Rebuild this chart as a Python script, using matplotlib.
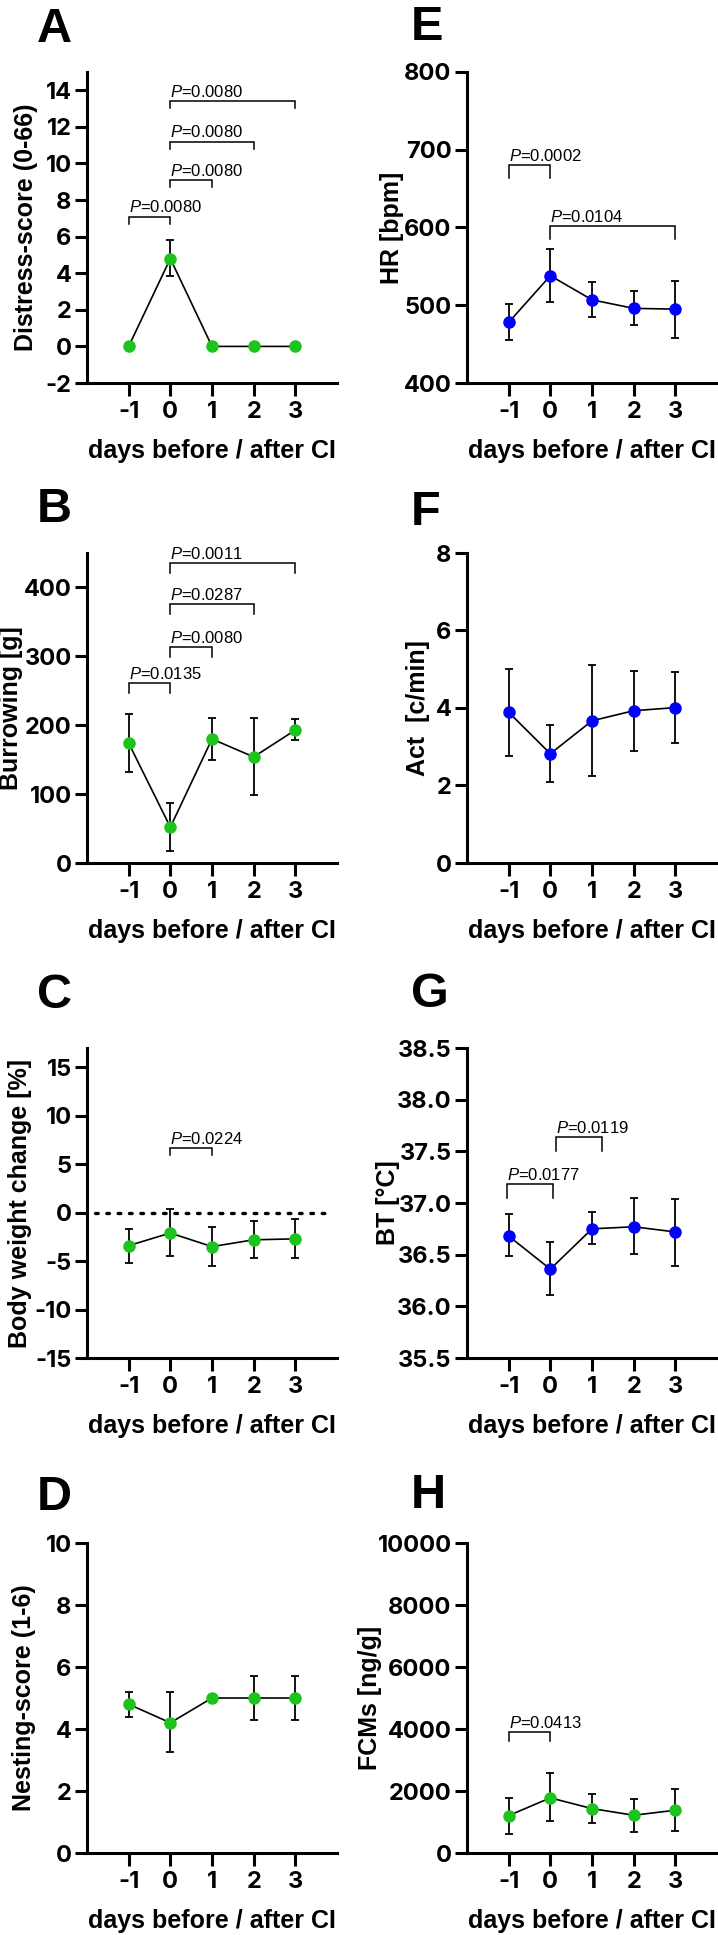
import numpy as np
import matplotlib
matplotlib.use('Agg')
import matplotlib.pyplot as plt
from matplotlib.ticker import FormatStrFormatter

plt.rcParams['font.family'] = ['Liberation Sans', 'DejaVu Sans']
plt.rcParams['axes.unicode_minus'] = False
plt.rcParams['mathtext.fontset'] = 'custom'
plt.rcParams['mathtext.it'] = 'Liberation Sans:italic'
plt.rcParams['mathtext.rm'] = 'Liberation Sans'

GREEN = '#1ec31e'
BLUE = '#0000ff'

days = [-1, 0, 1, 2, 3]

# mean, lower and upper end of the error bars
distress_mean = [0, 4.8, 0, 0, 0]
distress_lo = [0, 3.85, 0, 0, 0]
distress_hi = [0, 5.8, 0, 0, 0]

burrow_mean = [174, 52, 180, 154, 193]
burrow_lo = [132, 18, 150, 98, 178]
burrow_hi = [216, 87, 211, 210, 209]

weight_mean = [-3.4, -2.1, -3.5, -2.8, -2.7]
weight_lo = [-5.2, -4.5, -5.5, -4.7, -4.7]
weight_hi = [-1.7, 0.4, -1.45, -0.85, -0.7]

nest_mean = [4.8, 4.2, 5.0, 5.0, 5.0]
nest_lo = [4.4, 3.25, 5.0, 4.3, 4.3]
nest_hi = [5.2, 5.2, 5.0, 5.7, 5.7]

hr_mean = [478, 538, 507, 496, 495]
hr_lo = [455, 504, 485, 474, 458]
hr_hi = [501, 572, 530, 518, 531]

act_mean = [3.89, 2.82, 3.67, 3.93, 4.01]
act_lo = [2.77, 2.08, 2.25, 2.9, 3.09]
act_hi = [5.0, 3.55, 5.1, 4.96, 4.92]

bt_mean = [36.68, 36.36, 36.75, 36.77, 36.72]
bt_lo = [36.49, 36.11, 36.60, 36.51, 36.39]
bt_hi = [36.89, 36.62, 36.91, 37.05, 37.04]

fcm_mean = [1207, 1778, 1433, 1218, 1380]
fcm_lo = [625, 1025, 970, 679, 700]
fcm_hi = [1778, 2565, 1908, 1757, 2070]

# significance brackets: (x from, x to, y, p value)
distress_brackets = [(-1, 0, 7.1, '0.0080'), (0, 1, 9.1, '0.0080'),
                     (0, 2, 11.2, '0.0080'), (0, 3, 13.4, '0.0080')]
burrow_brackets = [(-1, 0, 261, '0.0135'), (0, 1, 313, '0.0080'),
                   (0, 2, 376, '0.0287'), (0, 3, 435, '0.0011')]
weight_brackets = [(0, 1, 6.7, '0.0224')]
nest_brackets = []
hr_brackets = [(-1, 0, 680, '0.0002'), (0, 3, 602, '0.0104')]
act_brackets = []
bt_brackets = [(-1.05, 0.06, 37.18, '0.0177'), (0.14, 1.24, 37.64, '0.0119')]
fcm_brackets = [(-1, 0, 3910, '0.0413')]

W, H = 718, 1935
rows = [(72, 383), (553, 863), (1048, 1358), (1543, 1853)]
cols = [87, 467]
AX_W = 250

panels = [
    # letter, col, row, ylabel, mean, lo, hi, brackets, ylim, yticks, color, tip px, ylabel x px
    ('A', 0, 0, 'Distress-score (0-66)', distress_mean, distress_lo, distress_hi,
     distress_brackets, (-2, 15), np.arange(-2, 15, 2), GREEN, 7, 26),
    ('B', 0, 1, 'Burrowing [g]', burrow_mean, burrow_lo, burrow_hi,
     burrow_brackets, (0, 450), np.arange(0, 401, 100), GREEN, 10, 11),
    ('C', 0, 2, 'Body weight change [%]', weight_mean, weight_lo, weight_hi,
     weight_brackets, (-15, 17), np.arange(-15, 16, 5), GREEN, 7, 20),
    ('D', 0, 3, 'Nesting-score (1-6)', nest_mean, nest_lo, nest_hi,
     nest_brackets, (0, 10), np.arange(0, 11, 2), GREEN, 8, 24),
    ('E', 1, 0, 'HR [bpm]', hr_mean, hr_lo, hr_hi,
     hr_brackets, (400, 800), np.arange(400, 801, 100), BLUE, 13, 392),
    ('F', 1, 1, 'Act  [c/min]', act_mean, act_lo, act_hi,
     act_brackets, (0, 8), np.arange(0, 9, 2), BLUE, 10, 418),
    ('G', 1, 2, 'BT [°C]', bt_mean, bt_lo, bt_hi,
     bt_brackets, (35.5, 38.5), np.arange(35.5, 38.51, 0.5), BLUE, 14, 388),
    ('H', 1, 3, 'FCMs [ng/g]', fcm_mean, fcm_lo, fcm_hi,
     fcm_brackets, (0, 10000), np.arange(0, 10001, 2000), GREEN, 9, 370),
]
letter_base = {'A': 42, 'B': 522, 'C': 1008, 'D': 1510,
               'E': 40, 'F': 525, 'G': 1007, 'H': 1508}

fig = plt.figure(figsize=(W / 100, H / 100), dpi=100)

for (letter, c, r, ylabel, mean, lo, hi, brackets, ylim, yticks,
     color, tip_px, ylab_x) in panels:
    top, bottom = rows[r]
    left = cols[c]
    ax_h = bottom - top
    ax = fig.add_axes([left / W, 1 - bottom / H, AX_W / W, ax_h / H])

    mean = np.array(mean)
    yerr = [mean - np.array(lo), np.array(hi) - mean]
    ax.errorbar(days, mean, yerr=yerr, fmt='none', ecolor='black',
                elinewidth=1.3, capsize=2.8, capthick=1.3, zorder=2)
    ax.plot(days, mean, '-', color='black', lw=1.2, zorder=2)
    ax.plot(days, mean, 'o', color=color, ms=8, mec=color, zorder=3, clip_on=False)

    if letter == 'C':
        ax.axhline(0, xmin=0.03, xmax=0.97, color='black', lw=2.4,
                   linestyle=(0, (0.8, 2.6)), dash_capstyle='round', zorder=1)

    ax.set_xlim(-2, 4)
    ax.set_ylim(*ylim)
    ax.set_xticks(days)
    ax.set_yticks(yticks)
    if letter == 'G':
        ax.yaxis.set_major_formatter(FormatStrFormatter('%.1f'))

    tip = tip_px / ax_h * (ylim[1] - ylim[0])
    for x1, x2, y, p in brackets:
        ax.plot([x1, x1, x2, x2], [y - tip, y, y, y - tip], color='black',
                lw=1.1, solid_joinstyle='miter', zorder=2)
        ax.annotate('$P$=' + p, xy=(x1, y), xytext=(0, 3),
                    textcoords='offset points', ha='left', va='baseline',
                    fontsize=12, fontweight='normal')

    for side in ['top', 'right']:
        ax.spines[side].set_visible(False)
    for side in ['left', 'bottom']:
        ax.spines[side].set_linewidth(2.2)
    ax.tick_params(axis='both', width=2.2, length=9, labelsize=17)
    ax.tick_params(axis='x', pad=4)
    ax.tick_params(axis='y', pad=2)
    for lbl in ax.get_xticklabels() + ax.get_yticklabels():
        lbl.set_fontweight('bold')
        lbl.set_family(['Inter', 'Liberation Sans'])

    ax.set_ylabel(ylabel, fontsize=18, fontweight='bold', va='center')
    ax.yaxis.set_label_coords((ylab_x - left) / AX_W, 0.5)
    ax.set_xlabel('days before / after CI', fontsize=18, fontweight='bold', va='center')
    ax.xaxis.set_label_coords(0.5, -68 / ax_h)

    lx = 37 if c == 0 else 411
    fig.text(lx / W, 1 - letter_base[letter] / H, letter, fontsize=35,
             fontweight='bold', ha='left', va='baseline')

fig.savefig('out.png', dpi=100)
